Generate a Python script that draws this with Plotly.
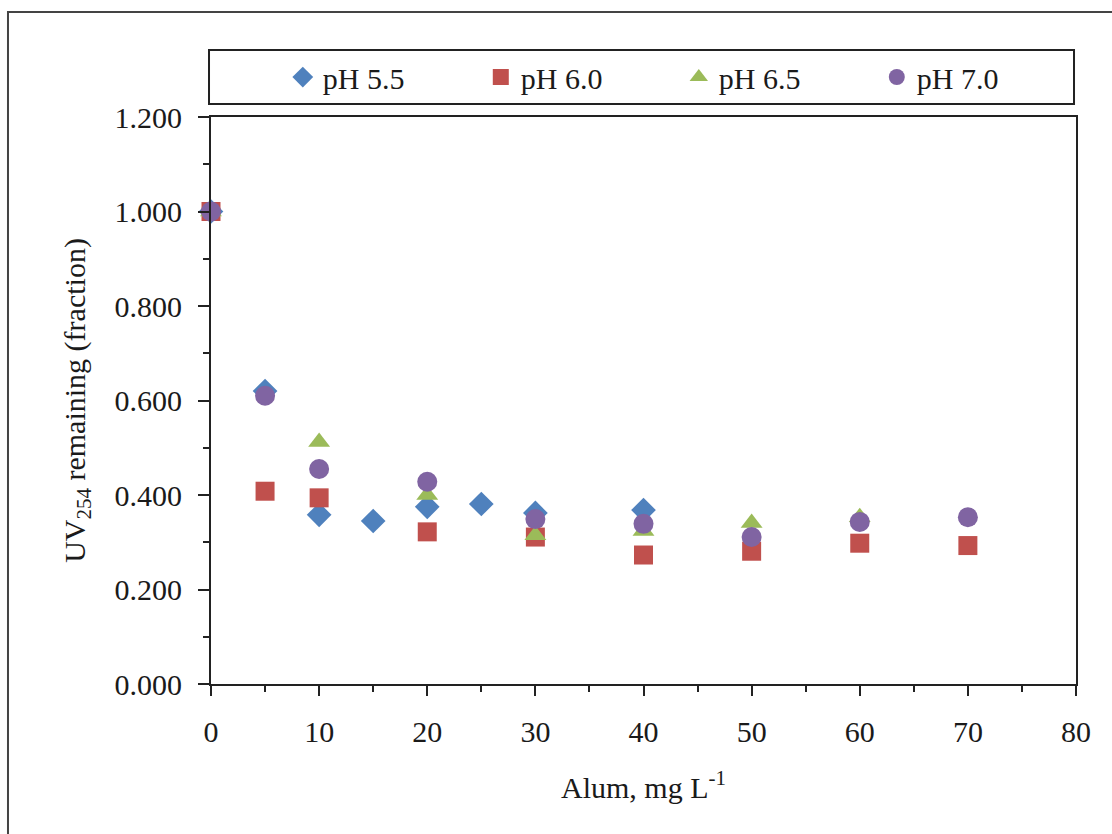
import plotly.graph_objects as go

alum_55 = [0, 5, 10, 15, 20, 25, 30, 40]
uv_55 = [1.000, 0.620, 0.358, 0.345, 0.375, 0.381, 0.362, 0.368]

alum_60 = [0, 5, 10, 20, 30, 40, 50, 60, 70]
uv_60 = [1.000, 0.408, 0.394, 0.322, 0.311, 0.273, 0.281, 0.298, 0.293]

alum_65 = [0, 10, 20, 30, 40, 50, 60]
uv_65 = [1.000, 0.512, 0.400, 0.315, 0.324, 0.341, 0.353]

alum_70 = [0, 5, 10, 20, 30, 40, 50, 60, 70]
uv_70 = [1.000, 0.610, 0.455, 0.428, 0.349, 0.339, 0.311, 0.343, 0.353]

series = [
    ("pH 5.5", alum_55, uv_55, "diamond", "#4F81BD", 19),
    ("pH 6.0", alum_60, uv_60, "square", "#C0504D", 19),
    ("pH 6.5", alum_65, uv_65, "triangle-up", "#9BBB59", 19),
    ("pH 7.0", alum_70, uv_70, "circle", "#8064A2", 20),
]

FONT = "Liberation Serif"
FS = 30

fig = go.Figure()
for name, xs, ys, sym, col, sz in series:
    fig.add_trace(go.Scatter(
        x=xs, y=ys, mode="markers", name=name, cliponaxis=False,
        marker=dict(symbol=sym, color=col, size=sz, line=dict(width=0)),
    ))

fig.update_layout(
    width=1112, height=834,
    margin=dict(l=211, r=36, t=117, b=150),
    paper_bgcolor="white", plot_bgcolor="white",
    font=dict(family=FONT, size=FS, color="#1a1a1a"),
    showlegend=True,
    legend=dict(
        orientation="h", x=0.083, xanchor="left", y=1.0705, yanchor="middle",
        entrywidth=153, entrywidthmode="pixels", itemsizing="trace",
        bgcolor="rgba(0,0,0,0)", borderwidth=0, font=dict(family=FONT, size=FS),
        tracegroupgap=0, itemwidth=30,
    ),
    xaxis=dict(
        range=[0, 80], dtick=10, tick0=0, showgrid=False, zeroline=False,
        showline=True, linecolor="#222222", linewidth=2, mirror=True,
        ticks="outside", ticklen=10, tickwidth=2, tickcolor="#222222",
        ticklabelstandoff=10,
        minor=dict(dtick=5, ticks="outside", ticklen=6, tickwidth=2, tickcolor="#222222", showgrid=False),
        title=dict(text="Alum, mg L<sup>-1</sup>", font=dict(family=FONT, size=FS), standoff=30),
        tickfont=dict(family=FONT, size=FS),
    ),
    yaxis=dict(
        range=[0, 1.2], dtick=0.2, tick0=0, tickformat=".3f", showgrid=False, zeroline=False,
        showline=True, linecolor="#222222", linewidth=2, mirror=True,
        ticks="outside", ticklen=11, tickwidth=2, tickcolor="#222222",
        ticklabelstandoff=10,
        minor=dict(dtick=0.1, ticks="outside", ticklen=6, tickwidth=2, tickcolor="#222222", showgrid=False),
        title=dict(text="UV<sub>254</sub> remaining (fraction)", font=dict(family=FONT, size=FS), standoff=20),
        tickfont=dict(family=FONT, size=FS),
    ),
    shapes=[
        dict(type="rect", xref="paper", yref="paper", x0=-0.0023, x1=0.9977, y0=1.0229, y1=1.1182,
             line=dict(color="#222222", width=2), fillcolor="rgba(0,0,0,0)"),
        dict(type="rect", xref="paper", yref="paper", x0=-0.2347, x1=1.06, y0=-0.4, y1=1.1852,
             line=dict(color="#444444", width=2), fillcolor="rgba(0,0,0,0)"),
    ],
)

fig.write_html("out.html")
